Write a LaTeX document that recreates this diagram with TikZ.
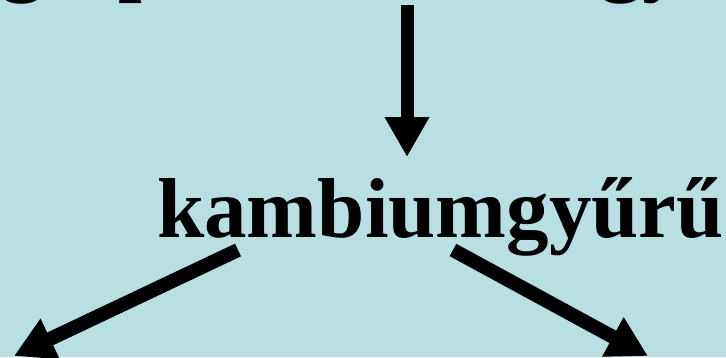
\documentclass[tikz,border=0pt]{standalone}
\usepackage{fontspec}
\setmainfont{Liberation Serif}
\usetikzlibrary{arrows.meta}
\definecolor{slidebg}{RGB}{185,223,227}
\begin{document}
\begin{tikzpicture}[x=1pt,y=1pt,
    word/.style={inner sep=0pt,anchor=base west,font=\fontsize{85}{90}\selectfont\bfseries},
    bigarrow/.style={line width=14pt,-{Triangle[length=40pt,width=42pt]}}]
      \fill[slidebg] (0,0) rectangle (726,357);
      \useasboundingbox (0,0) rectangle (726,357);
      \begin{scope}
        \clip (0,0) rectangle (726,357);
        \draw
          (1,371) node[word] (topg){g}
          (118,371) node[word] (topp){p}
          (600,371) node[word] (topgy){gy};
      \end{scope}
      \draw
        (157,120) node[word] (kambium){kambiumgyűrű};
      \coordinate (top) at (407,352);
      \coordinate (kl) at (238,107);
      \coordinate (kr) at (453,107);
      \coordinate (bl) at (14,1);
      \coordinate (br) at (648,1);
      \begin{scope}[bigarrow]
        \draw[line width=13pt] (top) to (407,200);
        \draw (kl) to (bl);
        \draw (kr) to (br);
      \end{scope}
    \end{tikzpicture}
\end{document}
